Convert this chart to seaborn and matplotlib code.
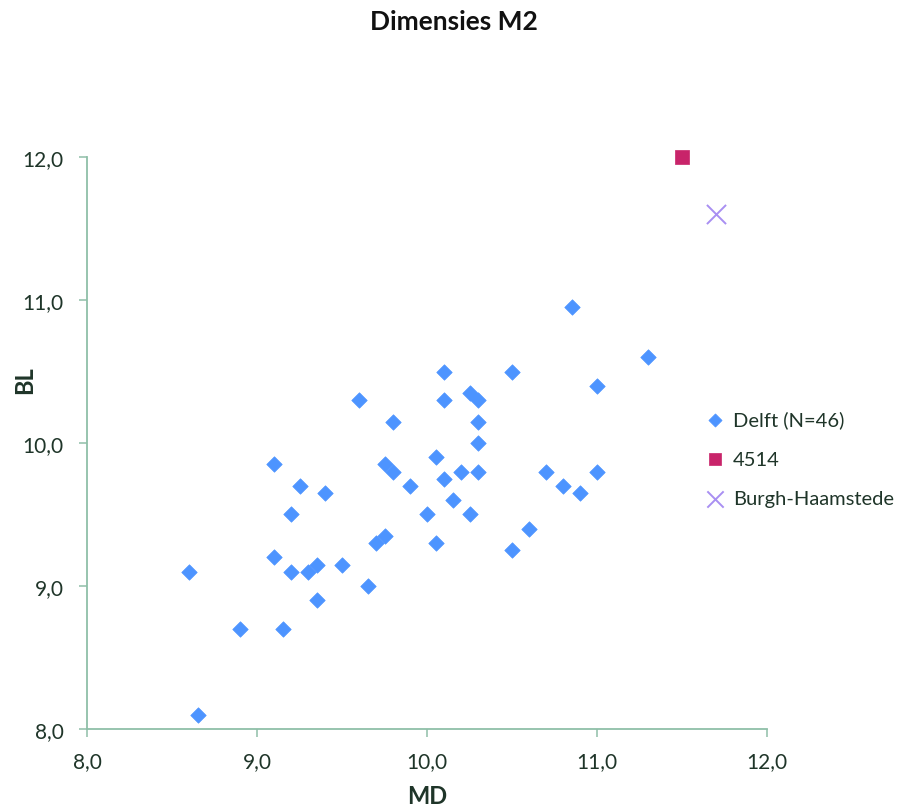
import pandas as pd
import matplotlib
matplotlib.use("Agg")
import matplotlib.pyplot as plt
import seaborn as sns

delft_md = [8.6, 8.65, 8.9, 9.15, 9.1, 9.1, 9.2, 9.25, 9.2, 9.3,
            9.35, 9.35, 9.4, 9.5, 9.65, 9.6, 9.7, 9.75, 9.75, 9.8,
            9.8, 9.9, 10.0, 10.05, 10.05, 10.1, 10.1, 10.1, 10.15, 10.2,
            10.25, 10.3, 10.3, 10.3, 10.3, 10.25, 10.5, 10.5, 10.6, 10.7,
            10.8, 10.9, 10.85, 11.0, 11.0, 11.3]
delft_bl = [9.1, 8.1, 8.7, 8.7, 9.85, 9.2, 9.5, 9.7, 9.1, 9.1,
            9.15, 8.9, 9.65, 9.15, 9.0, 10.3, 9.3, 9.35, 9.85, 9.8,
            10.15, 9.7, 9.5, 9.9, 9.3, 10.5, 10.3, 9.75, 9.6, 9.8,
            10.35, 10.3, 10.15, 10.0, 9.8, 9.5, 10.5, 9.25, 9.4, 9.8,
            9.7, 9.65, 10.95, 10.4, 9.8, 10.6]

s4514_md = [11.5]
s4514_bl = [12.0]

burgh_md = [11.7]
burgh_bl = [11.6]

series_labels = ["Delft (N=46)", "4514", "Burgh-Haamstede"]
axis_ticks = [8.0, 9.0, 10.0, 11.0, 12.0]

sns.set_theme(style="white")
plt.rcParams["font.family"] = ["Lato", "DejaVu Sans"]

axis_col = "#8fbfa8"
text_col = "#1f3529"

fig = plt.figure(figsize=(9.08, 8.12), dpi=100)
ax = fig.add_axes([0.0958, 0.101, 0.749, 0.7044])

delft = pd.DataFrame({"MD": delft_md, "BL": delft_bl})
sns.scatterplot(data=delft, x="MD", y="BL", marker="D", s=62, color="#4d94ff",
                edgecolor="#4d94ff", linewidth=0.5, label=series_labels[0], ax=ax,
                zorder=3, clip_on=False)
sns.scatterplot(x=s4514_md, y=s4514_bl, marker="s", s=105, color="#c8246a",
                edgecolor="#c8246a", linewidth=0.5, label=series_labels[1], ax=ax,
                zorder=3, clip_on=False)
sns.scatterplot(x=burgh_md, y=burgh_bl, marker="x", s=190, color="#a98ff2",
                linewidth=1.4, label=series_labels[2], ax=ax, zorder=3, clip_on=False)

ax.set_xlim(axis_ticks[0], axis_ticks[-1])
ax.set_ylim(axis_ticks[0], axis_ticks[-1])
ax.set_xticks(axis_ticks)
ax.set_yticks(axis_ticks)
ax.set_xticklabels([f"{t:.1f}".replace(".", ",") for t in axis_ticks])
ax.set_yticklabels([f"{t:.1f}".replace(".", ",") for t in axis_ticks])

for side in ["top", "right"]:
    ax.spines[side].set_visible(False)
for side in ["left", "bottom"]:
    ax.spines[side].set_color(axis_col)
    ax.spines[side].set_linewidth(1.3)

ax.tick_params(axis="both", direction="out", length=6, width=1.1, color=axis_col,
               labelcolor=text_col, labelsize=15, bottom=True, left=True)
ax.tick_params(axis="y", pad=11)
ax.tick_params(axis="x", pad=10)
ax.grid(False)

ax.set_xlabel("MD", fontsize=17, fontweight="bold", color=text_col)
ax.set_ylabel("BL", fontsize=17, fontweight="bold", color=text_col)
ax.xaxis.set_label_coords(0.5, -0.117)
ax.yaxis.set_label_coords(-0.091, 0.612)
ax.xaxis.label.set_va("center")
ax.yaxis.label.set_va("center")
fig.suptitle("Dimensies M2", fontsize=19, fontweight="bold", color="#111111", y=0.988)

leg = ax.legend(loc="center left", frameon=False,
                fontsize=14.5, labelspacing=1.1, handletextpad=-0.1, markerscale=0.85,
                borderaxespad=0, borderpad=0)
for t in leg.get_texts():
    t.set_color(text_col)
leg.set_bbox_to_anchor((0.765, 0.434), transform=fig.transFigure)

fig.savefig("out.png", dpi=100)
